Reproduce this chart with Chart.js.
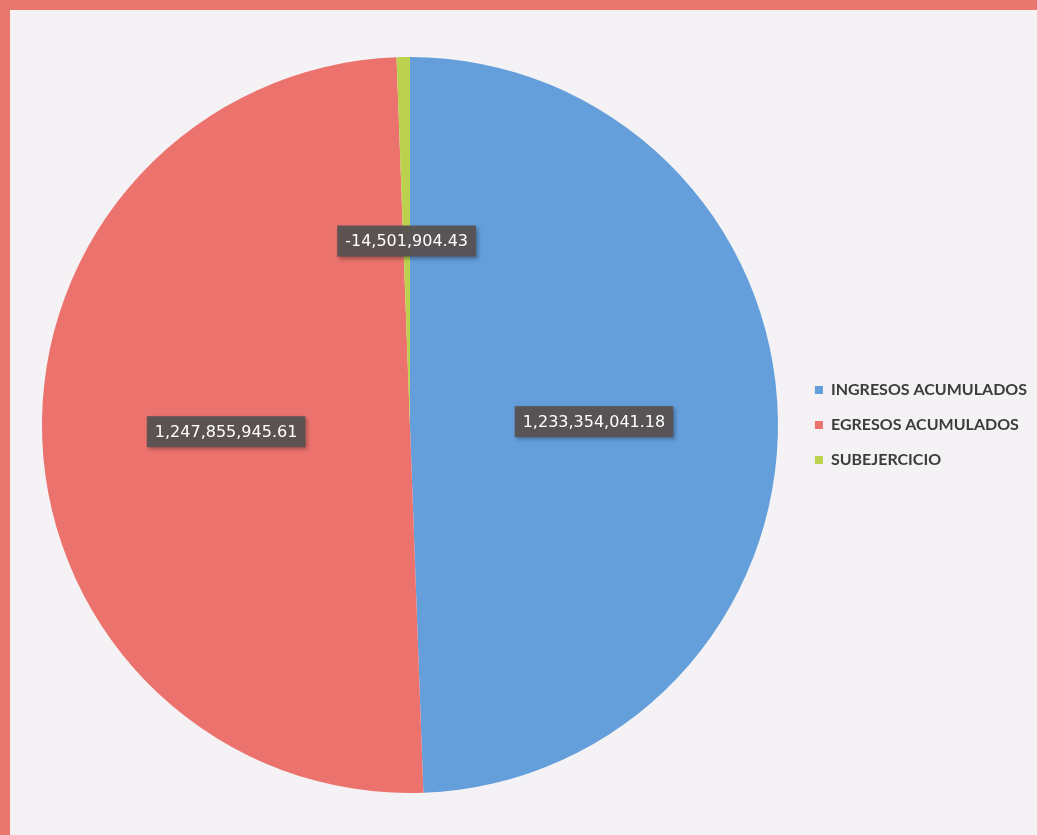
<!DOCTYPE html>
<html>
<head>
<meta charset="utf-8">
<script src="https://cdn.jsdelivr.net/npm/chart.js@4"></script>
<style>
  html, body { margin: 0; padding: 0; width: 1037px; height: 835px; overflow: hidden; background: #f3f1f3; }
  #frame { position: absolute; left: 0; top: 0; width: 1027px; height: 825px;
           border-left: 10px solid #e9766f; border-top: 10px solid #e9766f; background: #f4f2f4; }
  #wrap { position: absolute; left: 0; top: 0; width: 1027px; height: 825px; }
</style>
</head>
<body>
<div id="frame"><div id="wrap"><canvas id="c" width="1027" height="825"></canvas></div></div>
<script>
const categories = ['INGRESOS ACUMULADOS', 'EGRESOS ACUMULADOS', 'SUBEJERCICIO'];
const signedValues = [1233354041.18, 1247855945.61, -14501904.43];
const sliceColors = ['#649fdb', '#ec736d', '#bcd24e'];

const pieValues = signedValues.map(v => Math.abs(v));
const fmt = v => (v < 0 ? '-' : '') + Math.abs(v).toLocaleString('en-US', { minimumFractionDigits: 2, maximumFractionDigits: 2 });

const labelPlugin = {
  id: 'valueLabels',
  afterDatasetsDraw(chart) {
    const ctx = chart.ctx;
    const meta = chart.getDatasetMeta(0);
    ctx.save();
    ctx.font = '16px "DejaVu Sans"';
    ctx.textAlign = 'center';
    ctx.textBaseline = 'middle';
    meta.data.forEach((arc, i) => {
      const p = arc.tooltipPosition();
      const txt = fmt(signedValues[i]);
      const w = ctx.measureText(txt).width + 16;
      const h = 31;
      ctx.shadowColor = 'rgba(0,0,0,0.35)';
      ctx.shadowBlur = 4;
      ctx.shadowOffsetX = 2;
      ctx.shadowOffsetY = 2;
      ctx.fillStyle = 'rgba(88,82,82,0.95)';
      ctx.fillRect(p.x - w / 2, p.y - h / 2, w, h);
      ctx.shadowColor = 'transparent';
      ctx.fillStyle = '#ffffff';
      ctx.fillText(txt, p.x, p.y + 1);
    });
    ctx.restore();
  }
};

new Chart(document.getElementById('c'), {
  type: 'pie',
  data: {
    labels: categories,
    datasets: [{ data: pieValues, backgroundColor: sliceColors, borderWidth: 0 }]
  },
  options: {
    responsive: false,
    animation: false,
    layout: { padding: { left: 14, top: 47, bottom: 42, right: 0 } },
    plugins: {
      tooltip: { enabled: false },
      legend: {
        position: 'right',
        align: 'center',
        labels: {
          boxWidth: 8, boxHeight: 8, padding: 19,
          color: '#3c3c3c',
          font: { family: 'Lato', size: 16, weight: '700' }
        }
      }
    }
  },
  plugins: [labelPlugin]
});
</script>
</body>
</html>
